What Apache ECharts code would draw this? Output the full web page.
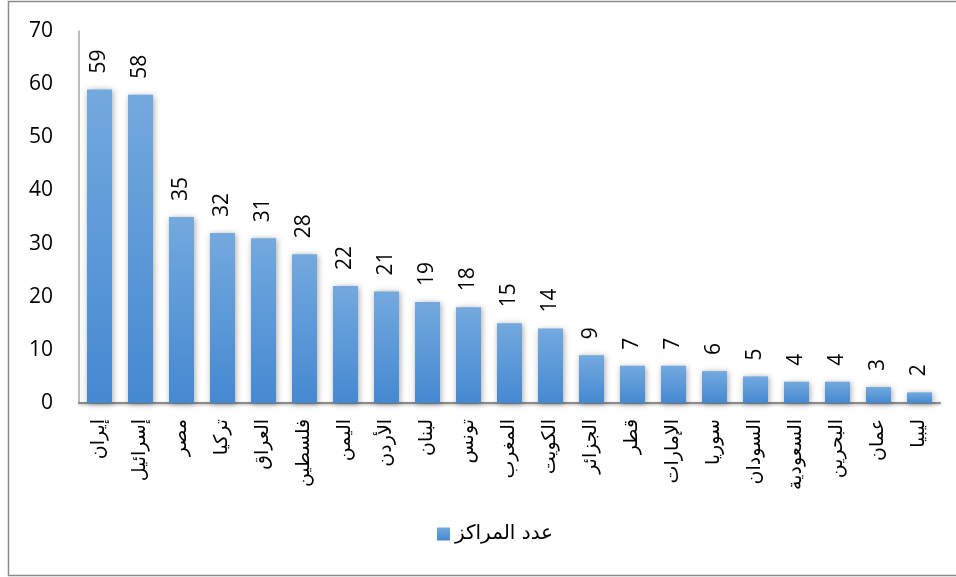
<!DOCTYPE html>
<html>
<head>
<meta charset="utf-8">
<script src="https://cdn.jsdelivr.net/npm/echarts@6/dist/echarts.min.js"></script>
<style>html,body{margin:0;padding:0;background:#fff}#c{width:956px;height:577px}</style>
</head>
<body>
<div id="c"></div>
<script>
const categories = ['إيران','إسرائيل','مصر','تركيا','العراق','فلسطين','اليمن','الأردن','لبنان','تونس','المغرب','الكويت','الجزائر','قطر','الإمارات','سوريا','السودان','السعودية','البحرين','عمان','ليبيا'];
const values = [59,58,35,32,31,28,22,21,19,18,15,14,9,7,7,6,5,4,4,3,2];
const seriesName = 'عدد المراكز';
const yTicks = [0,10,20,30,40,50,60,70];

const chart = echarts.init(document.getElementById('c'));
chart.setOption({
  animation: false,
  textStyle: { fontFamily: "'Open Sans', 'DejaVu Sans', sans-serif" },
  graphic: [{
    type: 'rect', shape: { x: 8.5, y: 1.5, width: 960, height: 574 },
    style: { fill: 'none', stroke: '#8c8c8c', lineWidth: 1.5 }, silent: true
  }],
  grid: { left: 79, right: 16, top: 31, bottom: 174, containLabel: false },
  legend: {
    data: [seriesName], bottom: 28, left: 432,
    itemWidth: 13, itemHeight: 13, itemGap: 8,
    icon: 'rect',
    textStyle: { fontSize: 20, color: '#000', fontFamily: "'DejaVu Sans', sans-serif" }
  },
  xAxis: {
    type: 'category', data: categories,
    axisLine: { show: true, lineStyle: { color: '#8c8c8c', width: 2, shadowColor: 'rgba(0,0,0,0.3)', shadowBlur: 3, shadowOffsetY: 1 } },
    axisTick: { show: false },
    axisLabel: { rotate: 90, fontSize: 19, color: '#000', margin: 16, interval: 0, fontFamily: "'DejaVu Sans', sans-serif" }
  },
  yAxis: {
    type: 'value', min: 0, max: 70, interval: 10,
    axisLine: { show: true, lineStyle: { color: '#a6a6a6', width: 1.5 } },
    axisTick: { show: false },
    splitLine: { show: false },
    axisLabel: { fontSize: 21, color: '#000', margin: 26,
      formatter: v => yTicks.includes(v) ? String(v) : '' }
  },
  series: [{
    name: seriesName, type: 'bar', data: values, barWidth: 25,
    itemStyle: {
      color: new echarts.graphic.LinearGradient(0, 0, 0, 1, [
        { offset: 0, color: '#73a9de' },
        { offset: 1, color: '#4589d1' }
      ]),
      shadowColor: 'rgba(0,0,0,0.35)', shadowBlur: 6, shadowOffsetX: 1, shadowOffsetY: 1
    },
    label: { show: true, position: 'top', rotate: 90, align: 'left', verticalAlign: 'middle',
      distance: 16, fontSize: 21, color: '#000' }
  }]
});
</script>
</body>
</html>
